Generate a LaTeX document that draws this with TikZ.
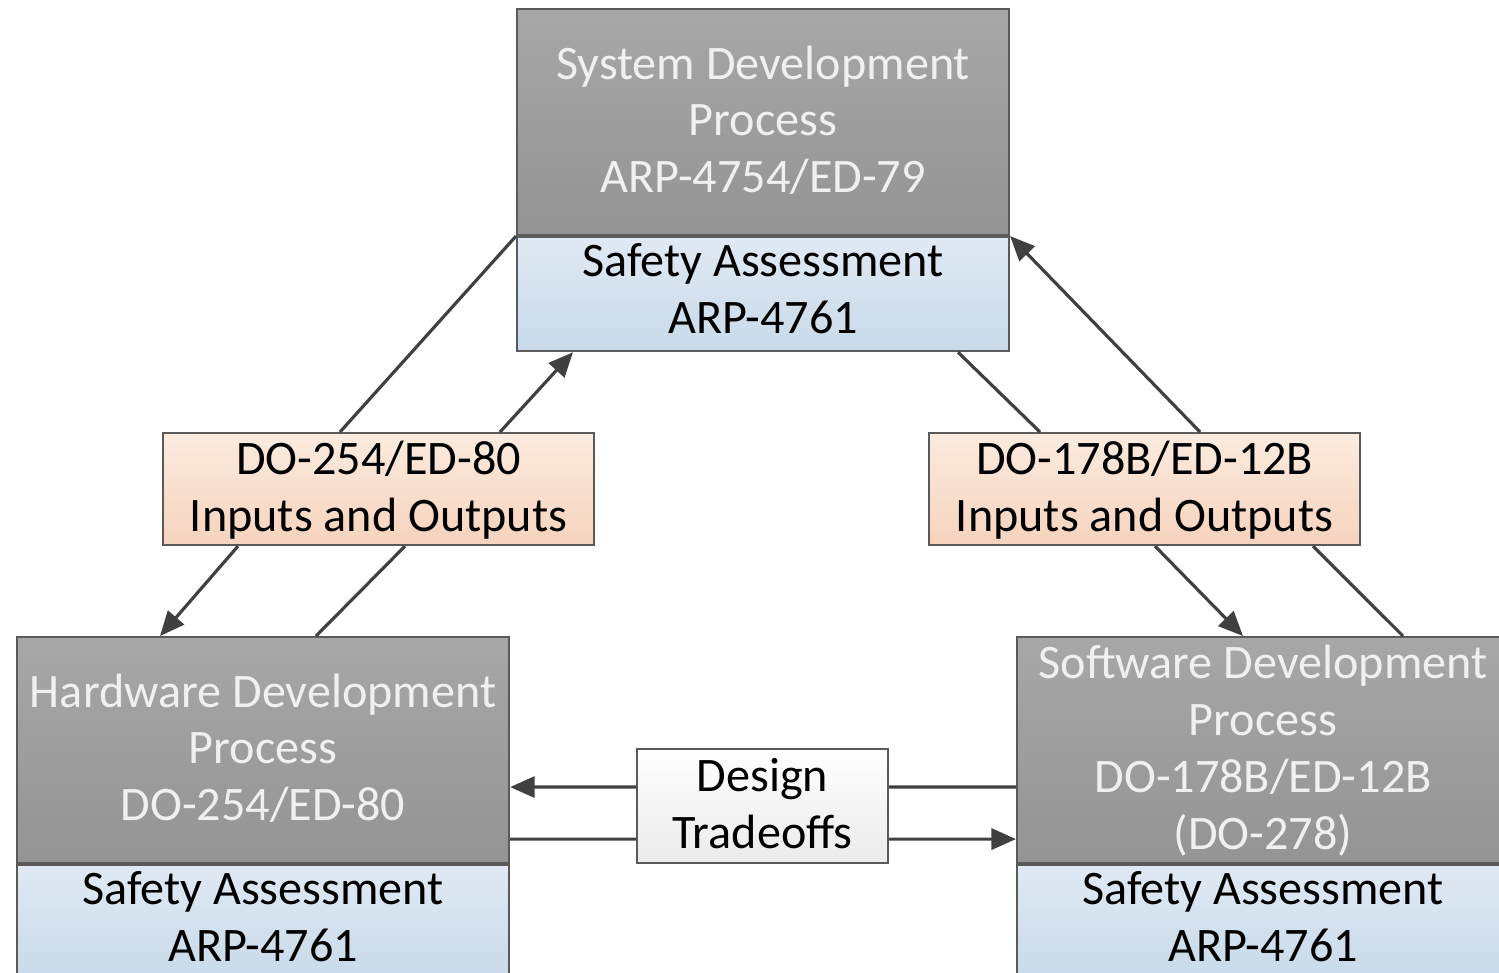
\documentclass[tikz,border=0pt]{standalone}
\usepackage{fontspec}
\setmainfont{Carlito}
\usepackage{tikz}
\usetikzlibrary{arrows.meta}

\definecolor{boxline}{HTML}{5A5A5A}
\definecolor{conline}{HTML}{404040}
\definecolor{procTop}{HTML}{A7A7A7}
\definecolor{procBot}{HTML}{949494}
\definecolor{safeTop}{HTML}{E0E9F3}
\definecolor{safeBot}{HTML}{C8DAEA}
\definecolor{ioTop}{HTML}{FBEBDF}
\definecolor{ioBot}{HTML}{F6D3BD}
\definecolor{tradeBot}{HTML}{EBEBEB}

\begin{document}
\begin{tikzpicture}[
    every node/.style={font=\fontsize{13.7}{16.2}\selectfont, align=center},
    anybox/.style={draw=boxline, line width=0.6pt, rectangle, anchor=north west,
      inner sep=0pt, text depth=1.6pt},
    procbox/.style={anybox, top color=procTop, bottom color=procBot, text=white!94!black,
      minimum width=4.92cm, minimum height=2.26cm},
    safebox/.style={anybox, top color=safeTop, bottom color=safeBot, text depth=3.5pt,
      minimum width=4.92cm, minimum height=1.14cm},
    iobox/.style={anybox, top color=ioTop, bottom color=ioBot,
      minimum width=4.31cm, minimum height=1.12cm},
    tradebox/.style={anybox, top color=white, bottom color=tradeBot,
      minimum width=2.51cm, minimum height=1.14cm},
    conn/.style={draw=conline, line width=0.9pt},
    arr/.style={conn, -{Triangle[length=7pt,width=6pt]}}
  ]
    \clip (0,0) rectangle (14.99,-9.72);

    % Draw the process boxes with their safety assessment below
    \node[procbox] (sys) at (5.16,-0.08) {System Development\\Process\\ARP-4754/ED-79};
    \node[safebox] (sysSA) at (sys.south west) {Safety Assessment\\ARP-4761};

    \node[procbox] (hw) at (0.16,-6.36) {Hardware Development\\Process\\DO-254/ED-80};
    \node[safebox] (hwSA) at (hw.south west) {Safety Assessment\\ARP-4761};

    \node[procbox] (sw) at (10.16,-6.36) {Software Development\\Process\\DO-178B/ED-12B\\(DO-278)};
    \node[safebox] (swSA) at (sw.south west) {Safety Assessment\\ARP-4761};

    % Draw the inputs and outputs boxes
    \node[iobox] (hwio) at (1.62,-4.32) {DO-254/ED-80\\Inputs and Outputs};
    \node[iobox] (swio) at (9.28,-4.32) {DO-178B/ED-12B\\Inputs and Outputs};
    \node[tradebox] (dt) at (6.36,-7.48) {Design\\Tradeoffs};

    % Left side connectors
    \draw[conn] (sys.south west) -- ([xshift=1.78cm]hwio.north west);
    \draw[arr] ([xshift=3.38cm]hwio.north west) -- ([xshift=0.57cm]sysSA.south west);
    \draw[arr] ([xshift=0.76cm]hwio.south west) -- ([xshift=1.44cm]hw.north west);
    \draw[conn] ([xshift=3.00cm]hw.north west) -- ([xshift=2.43cm]hwio.south west);

    % Right side connectors
    \draw[conn] ([xshift=4.42cm]sysSA.south west) -- ([xshift=1.12cm]swio.north west);
    \draw[arr] ([xshift=2.72cm]swio.north west) -- (sys.south east);
    \draw[arr] ([xshift=2.27cm]swio.south west) -- ([xshift=2.27cm]sw.north west);
    \draw[conn] ([xshift=3.87cm]sw.north west) -- ([xshift=3.85cm]swio.south west);

    % Design tradeoffs in both directions
    \draw[arr] ([yshift=0.19cm]dt.west) -- ([yshift=-0.37cm]hw.east);
    \draw[conn] ([yshift=0.19cm]dt.east) -- ([yshift=-0.37cm]sw.west);
    \draw[conn] ([yshift=-0.89cm]hw.east) -- ([yshift=-0.33cm]dt.west);
    \draw[arr] ([yshift=-0.33cm]dt.east) -- ([yshift=-0.89cm]sw.west);
\end{tikzpicture}
\end{document}
